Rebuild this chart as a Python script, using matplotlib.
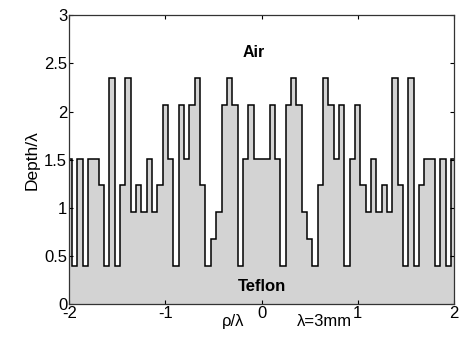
import numpy as np
import matplotlib
matplotlib.use("Agg")
import matplotlib.pyplot as plt

plt.rcParams['font.family'] = ['Liberation Sans', 'DejaVu Sans']

# Groove depth of each cell (in wavelengths), from rho = -2 to rho = 2.
# The inner cells are lambda/18 wide and centred on rho = 0; the first and
# last entries are the partial cells that run out to the plot edges.
depth = [
    1.51, 0.40, 1.51, 0.40, 1.51, 1.51, 1.24, 0.40, 2.35, 0.40,
    1.24, 2.35, 0.96, 1.24, 0.96, 1.51, 0.96, 1.24, 2.07, 1.51,
    0.40, 2.07, 1.51, 2.07, 2.35, 1.24, 0.40, 0.68, 0.96, 2.07,
    2.35, 2.07, 0.40, 1.51, 2.07, 1.51, 1.51, 1.51, 2.07, 1.51,
    0.40, 2.07, 2.35, 2.07, 0.96, 0.68, 0.40, 1.24, 2.35, 2.07,
    1.51, 2.07, 0.40, 1.51, 2.07, 1.24, 0.96, 1.51, 0.96, 1.24,
    0.96, 2.35, 1.24, 0.40, 2.35, 0.40, 1.24, 1.51, 1.51, 0.40,
    1.51, 0.40, 1.51,
]
cell_width = 1.0 / 18.0
x_range = (-2.0, 2.0)
y_range = (0.0, 3.0)
x_ticks = [-2, -1, 0, 1, 2]
y_ticks = [0, 0.5, 1, 1.5, 2, 2.5, 3]
y_tick_labels = ['0', '0.5', '1', '1.5', '2', '2.5', '3']

n_inner = len(depth) - 2
inner_edges = (np.arange(n_inner + 1) - n_inner / 2.0) * cell_width
edges = np.concatenate([[x_range[0]], inner_edges, [x_range[1]]])

fig = plt.figure(figsize=(4.63, 3.53), dpi=100)
ax = fig.add_axes([0.1497, 0.1388, 0.8305, 0.8179])

ax.stairs(depth, edges, baseline=0, fill=True, color='#d3d3d3', lw=0)
ax.stairs(depth, edges, baseline=None, color='black', lw=1.1)

ax.set_xlim(*x_range)
ax.set_ylim(*y_range)
ax.set_xticks(x_ticks)
ax.set_xticklabels([str(t) for t in x_ticks])
ax.set_yticks(y_ticks)
ax.set_yticklabels(y_tick_labels)
ax.tick_params(direction='in', top=True, right=True, length=3, width=0.8,
               labelsize=12, pad=1.5, colors='black')
for s in ax.spines.values():
    s.set_linewidth(0.9)
    s.set_color('#333333')

ax.text(-0.08, 2.61, 'Air', ha='center', va='center', fontsize=11.5,
        fontweight='bold')
ax.text(0.0, 0.18, 'Teflon', ha='center', va='center', fontsize=12,
        fontweight='bold')

ax.set_ylabel('Depth/λ', fontsize=12.5, labelpad=3)
fig.text(0.503, 0.088, 'ρ/λ', ha='center', va='center', fontsize=12)
fig.text(0.70, 0.088, 'λ=3mm', ha='center', va='center', fontsize=12)

fig.savefig('out.png', dpi=100)
